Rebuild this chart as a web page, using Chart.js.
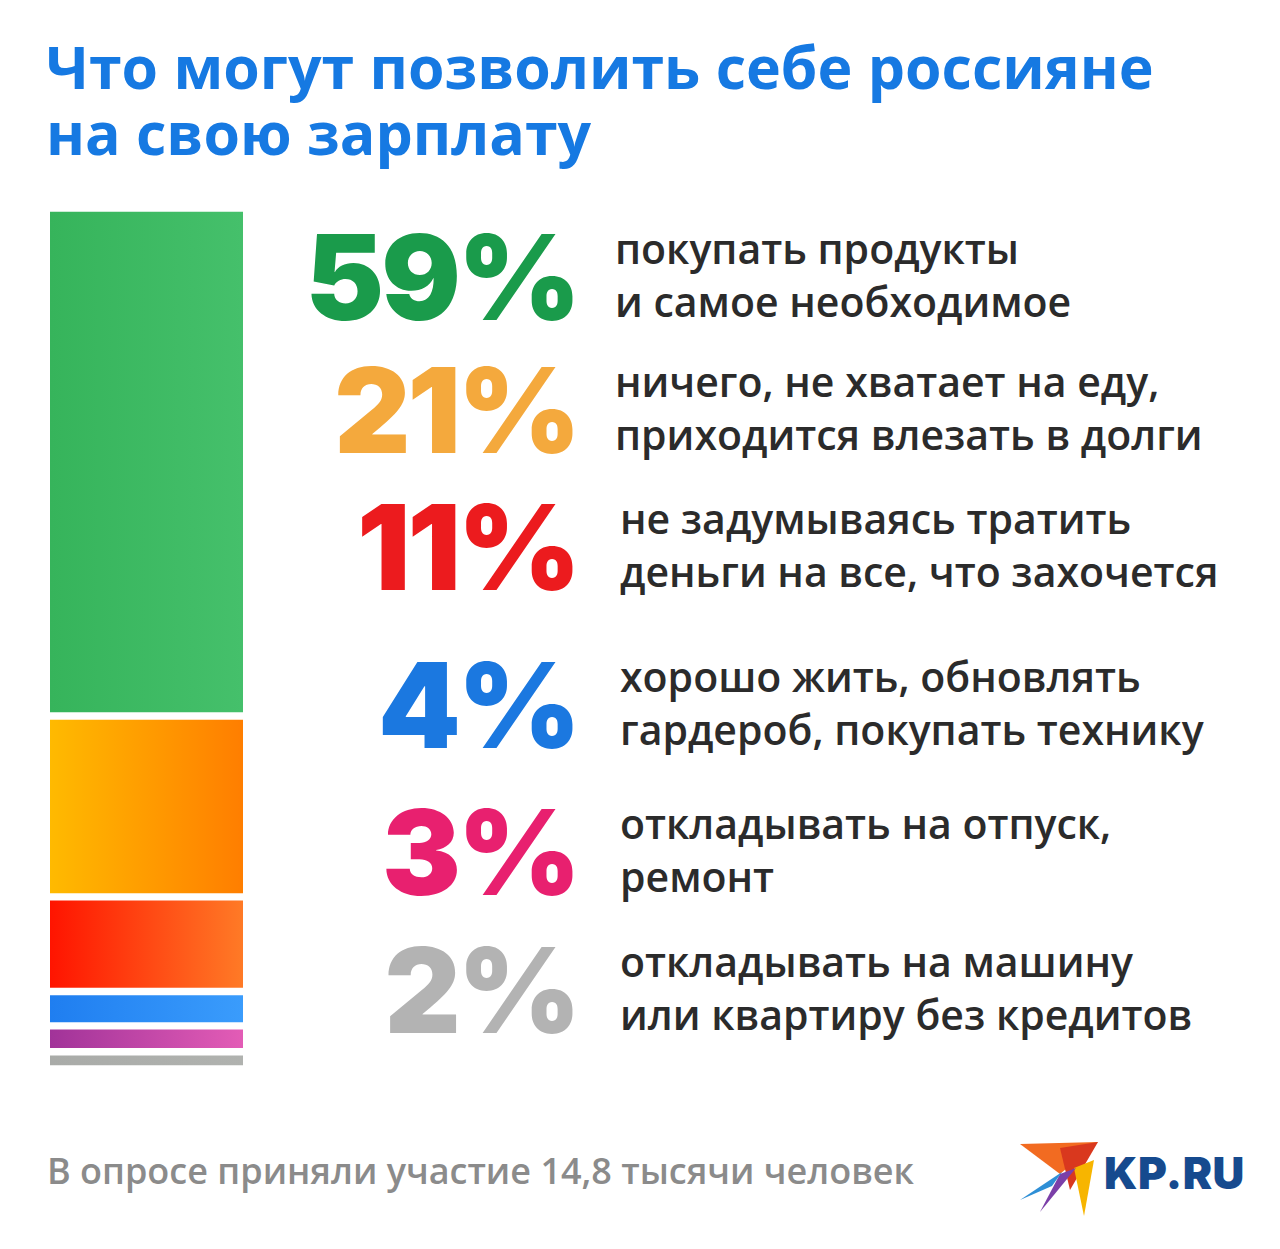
<!DOCTYPE html>
<html lang="ru">
<head>
<meta charset="utf-8">
<title>Что могут позволить себе россияне на свою зарплату</title>
<script src="https://cdn.jsdelivr.net/npm/chart.js@4.4.1/dist/chart.umd.min.js"></script>
<style>
  html, body { margin: 0; padding: 0; background: #fff; }
  #page { position: relative; width: 1280px; height: 1249px; overflow: hidden; background: #fff; }
  .titulo {
    position: absolute; left: 46px; margin: 0;
    font-family: "Open Sans", Roboto, sans-serif; font-weight: 700;
    font-size: 59px; line-height: 59px; color: #1679e2; white-space: nowrap;
  }
  #barBox { position: absolute; left: 50px; top: 208px; width: 193px; height: 861px; }
  .pct {
    position: absolute; left: 200px; width: 378px; text-align: right;
    font-family: Inter, "Open Sans", sans-serif; font-weight: 900;
    font-size: 118px; line-height: 118px; letter-spacing: -3px;
  }
  .lbl {
    position: absolute; font-family: "Open Sans", sans-serif; font-weight: 600;
    font-size: 41px; line-height: 53px; color: #2b2b2b; white-space: nowrap;
  }
  #foot {
    position: absolute; left: 47px; top: 1146px;
    font-family: "Open Sans", sans-serif; font-weight: 600;
    font-size: 36px; color: #8b8b8b; white-space: nowrap;
  }
  #logo { position: absolute; left: 1018px; top: 1138px; }
  #logoText {
    position: absolute; left: 1104px; top: 1146px;
    font-family: Inter, sans-serif; font-weight: 900; font-size: 44px;
    color: #164a8e; letter-spacing: 0.5px;
  }
</style>
</head>
<body>
<div id="page">
  <div class="titulo" style="top:37px">Что могут позволить себе россияне</div>
  <div class="titulo" style="top:103px">на свою зарплату</div>
  <div id="barBox"><canvas id="grafica"></canvas></div>
  <div id="rows"></div>
  <div id="foot">В опросе приняли участие 14,8 тысячи человек</div>
  <svg id="logo" width="84" height="80" viewBox="0 0 84 80">
    <polygon points="2,6 80,4 42,36" fill="#f26b21"/>
    <polygon points="42,10 80,4 52,52" fill="#d9381e"/>
    <polygon points="56,30 76,22 66,78" fill="#f7b500"/>
    <polygon points="42,36 58,30 22,74" fill="#7b3fa8"/>
    <polygon points="2,62 44,34 34,48" fill="#2e8fd6"/>
  </svg>
  <div id="logoText">KP.RU</div>
</div>
<script>
// данные опроса
var categorias = [
  "покупать продукты\nи самое необходимое",
  "ничего, не хватает на еду,\nприходится влезать в долги",
  "не задумываясь тратить\nденьги на все, что захочется",
  "хорошо жить, обновлять\nгардероб, покупать технику",
  "откладывать на отпуск,\nремонт",
  "откладывать на машину\nили квартиру без кредитов"
];
var valores = [59, 21, 11, 4, 3, 2];
var etiquetas = ["59%", "21%", "11%", "4%", "3%", "2%"];

// estilos
var coloresTexto = ["#1a9b4b", "#f4a93d", "#ec1b1e", "#1b78e0", "#e8206f", "#b3b3b3"];
var gradIzq = ["#36b45b", "#ffba00", "#ff1400", "#1f7ef0", "#a13399", "#a9aba8"];
var gradDer = ["#45c06b", "#ff7e00", "#ff7a26", "#3a9cfc", "#e35cb6", "#b0b2af"];
var centrosFila = [277, 410, 547, 705, 852, 990];
var xTexto = [615, 615, 620, 620, 620, 620];

var filas = document.getElementById("rows");
for (let i = 0; i < valores.length; i++) {
  let p = document.createElement("div");
  p.className = "pct";
  p.style.top = (centrosFila[i] - 59) + "px";
  p.style.color = coloresTexto[i];
  p.textContent = etiquetas[i];
  filas.appendChild(p);

  let t = document.createElement("div");
  t.className = "lbl";
  t.style.left = xTexto[i] + "px";
  t.style.top = (centrosFila[i] - 55) + "px";
  t.innerHTML = categorias[i].replace("\n", "<br>");
  filas.appendChild(t);
}

function degradado(i) {
  return function (ctx) {
    let chart = ctx.chart;
    let area = chart.chartArea;
    if (!area) return gradIzq[i];
    let g = chart.ctx.createLinearGradient(area.left, 0, area.right, 0);
    g.addColorStop(0, gradIzq[i]);
    g.addColorStop(1, gradDer[i]);
    return g;
  };
}

var datasets = [];
for (let i = 0; i < valores.length; i++) {
  datasets.push({
    label: categorias[i],
    data: [valores[i]],
    backgroundColor: degradado(i),
    borderColor: "#ffffff",
    borderWidth: { top: 4, bottom: 4, left: 0, right: 0 },
    borderSkipped: false,
    barPercentage: 1,
    categoryPercentage: 1
  });
}

var miGrafica = new Chart(document.getElementById("grafica").getContext("2d"), {
  type: "bar",
  data: { labels: [""], datasets: datasets },
  options: {
    responsive: true,
    maintainAspectRatio: false,
    animation: false,
    layout: { padding: 0 },
    plugins: { legend: { display: false }, tooltip: { enabled: false } },
    scales: {
      x: { stacked: true, display: false },
      y: { stacked: true, display: false, reverse: true, min: 0, max: 100 }
    }
  }
});
</script>
</body>
</html>
